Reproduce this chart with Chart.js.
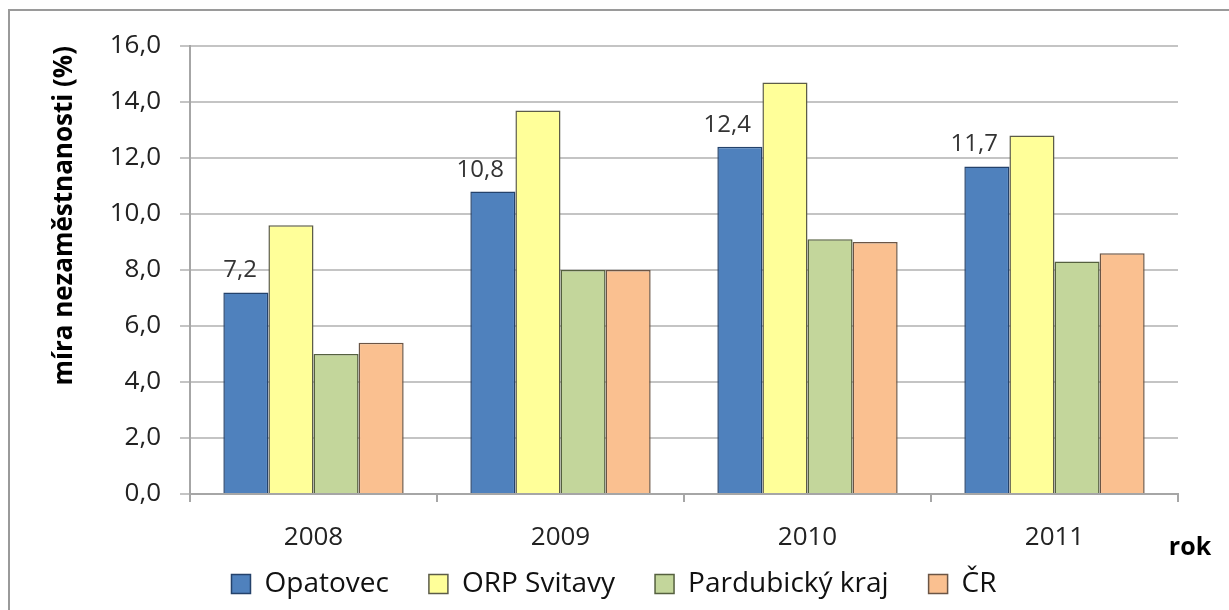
<!DOCTYPE html>
<html>
<head>
<meta charset="utf-8">
<script src="https://cdn.jsdelivr.net/npm/chart.js@4.4.1/dist/chart.umd.min.js"></script>
<style>
  html, body { margin: 0; padding: 0; background: #fff; overflow: hidden; }
  #frame { position: absolute; left: 8px; top: 9px; width: 1240px; height: 620px; border: 2px solid #9a9a9a; }
  #chart { position: absolute; left: 0; top: 0; }
</style>
</head>
<body>
<div id="frame"></div>
<canvas id="chart" width="1229" height="610"></canvas>
<script>
const years = ["2008", "2009", "2010", "2011"];
const opatovec = [7.2, 10.8, 12.4, 11.7];
const orpSvitavy = [9.6, 13.7, 14.7, 12.8];
const pardubickyKraj = [5.0, 8.0, 9.1, 8.3];
const cr = [5.4, 8.0, 9.0, 8.6];
const yTicks = [0, 2, 4, 6, 8, 10, 12, 14, 16];

const FONT = "'Open Sans', 'Liberation Sans', sans-serif";
const LEGEND_GAP = 40;

function fmt(v) {
  return v.toFixed(1).replace(".", ",");
}

// value labels only for the first series, placed up-left of the bar
const opatovecLabels = {
  id: "opatovecLabels",
  afterDatasetsDraw(chart) {
    const ctx = chart.ctx;
    const meta = chart.getDatasetMeta(0);
    ctx.save();
    ctx.font = "24px " + FONT;
    ctx.fillStyle = "#333";
    ctx.textAlign = "right";
    ctx.textBaseline = "alphabetic";
    meta.data.forEach((bar, i) => {
      ctx.fillText(fmt(opatovec[i]), bar.x + 11, bar.y - 15);
    });
    ctx.restore();
  }
};

// "rok" x axis caption at the right end
const xCaption = {
  id: "xCaption",
  afterDraw(chart) {
    const ctx = chart.ctx;
    const area = chart.chartArea;
    ctx.save();
    ctx.font = "bold 25px " + FONT;
    ctx.fillStyle = "#000";
    ctx.textAlign = "center";
    ctx.textBaseline = "middle";
    ctx.fillText("rok", area.right + 12, area.bottom + 54);
    ctx.restore();
  }
};

// legend needs wide gaps between items but a short box, centred on the page
const legendFit = {
  id: "legendFit",
  afterInit(chart) {
    const legend = chart.legend;
    const origFit = legend.fit;
    const origDraw = legend.draw;
    legend.fit = function () {
      origFit.call(this);
      this.height = 42;
    };
    legend.draw = function () {
      const t = this.top, l = this.left, r = this.right;
      this.top = t + 12 - LEGEND_GAP;
      this.left = l + 25;
      this.right = r + 25;
      origDraw.call(this);
      this.top = t;
      this.left = l;
      this.right = r;
    };
  }
};

const canvas = document.getElementById("chart");
const myChart = new Chart(canvas, {
  type: "bar",
  data: {
    labels: years,
    datasets: [
      { label: "Opatovec", data: opatovec, backgroundColor: "#4f81bd", borderColor: "#24426b" },
      { label: "ORP Svitavy", data: orpSvitavy, backgroundColor: "#ffff99", borderColor: "#5c5c48" },
      { label: "Pardubický kraj", data: pardubickyKraj, backgroundColor: "#c3d69b", borderColor: "#55603f" },
      { label: "ČR", data: cr, backgroundColor: "#fac090", borderColor: "#6b5545" }
    ]
  },
  options: {
    responsive: false,
    animation: false,
    layout: { padding: { top: 46, right: 51, bottom: 10, left: 0 } },
    datasets: {
      bar: { borderWidth: 1.5, categoryPercentage: 0.73, barPercentage: 1.0 }
    },
    plugins: {
      tooltip: { enabled: false },
      legend: {
        position: "bottom",
        labels: {
          boxWidth: 19,
          boxHeight: 19,
          padding: LEGEND_GAP,
          color: "#111",
          font: { family: FONT, size: 28 }
        }
      }
    },
    scales: {
      x: {
        afterFit(scale) { scale.height = 64; },
        grid: {
          drawOnChartArea: false,
          drawTicks: true,
          tickLength: 8,
          offset: true,
          color: "#a6a6a6",
          lineWidth: 2
        },
        border: { color: "#a6a6a6", width: 2 },
        ticks: { color: "#222", padding: 20, font: { family: FONT, size: 26 } }
      },
      y: {
        min: 0,
        max: 16,
        afterFit(scale) { scale.width = 190; },
        afterBuildTicks(scale) { scale.ticks = yTicks.map(v => ({ value: v })); },
        grid: { color: "#c4c4c4", lineWidth: 2, tickLength: 10 },
        border: { color: "#a6a6a6", width: 2 },
        ticks: {
          color: "#222",
          padding: 19,
          font: { family: FONT, size: 26 },
          callback: (v) => fmt(v)
        },
        title: {
          display: true,
          text: "míra nezaměstnanosti (%)",
          align: "end",
          color: "#000",
          padding: { top: 49, bottom: 0 },
          font: { family: FONT, size: 26, weight: "bold" }
        }
      }
    }
  },
  plugins: [opatovecLabels, xCaption, legendFit]
});
</script>
</body>
</html>
